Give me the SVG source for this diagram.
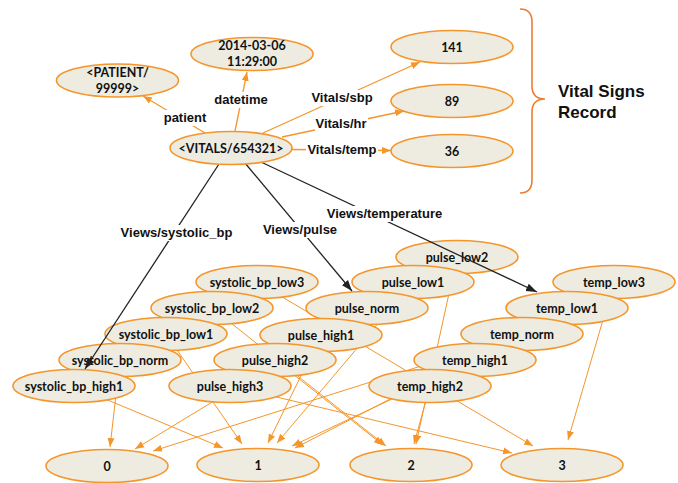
<svg xmlns="http://www.w3.org/2000/svg" width="678" height="483" viewBox="0 0 678 483">
<style>
.n ellipse{fill:#eeece1;stroke:#f4962c;stroke-width:1.6}
.n text{font-family:Lato,"Open Sans",sans-serif;font-weight:700;font-size:12.5px;fill:#111;text-anchor:middle}
.e{stroke:#f4962c;stroke-width:1;fill:none;marker-end:url(#ao)}
.et{stroke:#f4962c;stroke-width:1.3;fill:none;marker-end:url(#ao)}
.eb{stroke:#222;stroke-width:1.3;fill:none;marker-end:url(#ab)}
.lbl{font-family:"Liberation Sans",Arial,sans-serif;font-weight:700;font-size:13px;fill:#111;text-anchor:middle}
.bg{fill:#fff}
</style>
<defs>
<marker id="ao" markerUnits="userSpaceOnUse" markerWidth="10" markerHeight="8" refX="9" refY="4" orient="auto"><path d="M0,0.5 L9,4 L0,7.5 z" fill="#f4962c"/></marker>
<marker id="ab" markerUnits="userSpaceOnUse" markerWidth="12" markerHeight="9" refX="11" refY="4.5" orient="auto"><path d="M0,0.5 L11,4.5 L0,8.5 z" fill="#222"/></marker>
</defs>
<rect width="678" height="483" fill="#fff"/>

<g id="score-edges">
<line class="e" x1="120" y1="360" x2="110" y2="447"/>
<line class="e" x1="367" y1="308" x2="135" y2="449"/>
<line class="e" x1="522" y1="334" x2="153" y2="451"/>
<line class="e" x1="74" y1="386" x2="223" y2="448"/>
<line class="e" x1="166" y1="334" x2="242" y2="444"/>
<line class="e" x1="321" y1="335" x2="268" y2="443"/>
<line class="e" x1="413" y1="282" x2="277" y2="443"/>
<line class="e" x1="475" y1="360" x2="292" y2="446"/>
<line class="e" x1="567" y1="308" x2="295" y2="448"/>
<line class="e" x1="212" y1="308" x2="386" y2="446"/>
<line class="e" x1="275" y1="360" x2="383" y2="445"/>
<line class="e" x1="457" y1="257" x2="416" y2="444"/>
<line class="e" x1="430" y1="386" x2="414" y2="444"/>
<line class="e" x1="230" y1="386" x2="512" y2="453"/>
<line class="e" x1="257" y1="282" x2="533" y2="446"/>
<line class="e" x1="614" y1="282" x2="568" y2="440"/>
</g>

<g id="systolic_bp_low3" class="n"><ellipse cx="257" cy="282" rx="61" ry="16.5"/><text x="257" y="286.5">systolic_bp_low3</text></g>
<g id="systolic_bp_low2" class="n"><ellipse cx="212" cy="308" rx="61" ry="16.5"/><text x="212" y="312.5">systolic_bp_low2</text></g>
<g id="systolic_bp_low1" class="n"><ellipse cx="166" cy="334" rx="61" ry="16.5"/><text x="166" y="338.5">systolic_bp_low1</text></g>
<g id="systolic_bp_norm" class="n"><ellipse cx="120" cy="360" rx="61" ry="16.5"/><text x="120" y="364.5">systolic_bp_norm</text></g>
<g id="systolic_bp_high1" class="n"><ellipse cx="74" cy="386" rx="61" ry="16.5"/><text x="74" y="390.5">systolic_bp_high1</text></g>

<g id="pulse_low2" class="n"><ellipse cx="457" cy="257" rx="61" ry="16.5"/><text x="457" y="261.5">pulse_low2</text></g>
<g id="pulse_low1" class="n"><ellipse cx="413" cy="282" rx="61" ry="16.5"/><text x="413" y="286.5">pulse_low1</text></g>
<g id="pulse_norm" class="n"><ellipse cx="367" cy="308" rx="61" ry="16.5"/><text x="367" y="312.5">pulse_norm</text></g>
<g id="pulse_high1" class="n"><ellipse cx="321" cy="335" rx="61" ry="16.5"/><text x="321" y="339.5">pulse_high1</text></g>
<g id="pulse_high2" class="n"><ellipse cx="275" cy="360" rx="61" ry="16.5"/><text x="275" y="364.5">pulse_high2</text></g>
<g id="pulse_high3" class="n"><ellipse cx="230" cy="386" rx="61" ry="16.5"/><text x="230" y="390.5">pulse_high3</text></g>

<g id="temp_low3" class="n"><ellipse cx="614" cy="282" rx="61" ry="16.5"/><text x="614" y="286.5">temp_low3</text></g>
<g id="temp_low1" class="n"><ellipse cx="567" cy="308" rx="61" ry="16.5"/><text x="567" y="312.5">temp_low1</text></g>
<g id="temp_norm" class="n"><ellipse cx="522" cy="334" rx="61" ry="16.5"/><text x="522" y="338.5">temp_norm</text></g>
<g id="temp_high1" class="n"><ellipse cx="475" cy="360" rx="61" ry="16.5"/><text x="475" y="364.5">temp_high1</text></g>
<g id="temp_high2" class="n"><ellipse cx="430" cy="386" rx="61" ry="16.5"/><text x="430" y="390.5">temp_high2</text></g>

<g id="score0" class="n"><ellipse cx="107" cy="466" rx="61" ry="16.5"/><text x="107" y="470.5">0</text></g>
<g id="score1" class="n"><ellipse cx="258" cy="465" rx="61" ry="16.5"/><text x="258" y="469.5">1</text></g>
<g id="score2" class="n"><ellipse cx="411" cy="465" rx="61" ry="16.5"/><text x="411" y="469.5">2</text></g>
<g id="score3" class="n"><ellipse cx="562" cy="465" rx="61" ry="16.5"/><text x="562" y="469.5">3</text></g>

<g id="view-edges">
<line class="eb" x1="219" y1="164" x2="85" y2="369"/>
<line class="eb" x1="245" y1="163" x2="352" y2="291"/>
<line class="eb" x1="261" y1="162" x2="537" y2="292"/>
<rect class="bg" x="119" y="225" width="115" height="16"/>
<text class="lbl" x="176.5" y="237">Views/systolic_bp</text>
<rect class="bg" x="261" y="222" width="78" height="16"/>
<text class="lbl" x="300" y="234">Views/pulse</text>
<rect class="bg" x="324" y="206" width="121" height="16"/>
<text class="lbl" x="384.5" y="218">Views/temperature</text>
</g>

<g id="top-edges">
<line class="et" x1="205" y1="133" x2="143" y2="96"/>
<line class="et" x1="235" y1="131" x2="247" y2="72"/>
<line class="et" x1="263" y1="133" x2="420" y2="62"/>
<line class="et" x1="282" y1="137" x2="404" y2="111"/>
<line class="et" x1="292" y1="149.5" x2="391" y2="150.5"/>
<rect class="bg" x="162" y="110" width="46" height="16"/>
<text class="lbl" x="185" y="122">patient</text>
<rect class="bg" x="213" y="92" width="56" height="16"/>
<text class="lbl" x="241" y="104">datetime</text>
<rect class="bg" x="310" y="90" width="64" height="16"/>
<text class="lbl" x="342" y="102">Vitals/sbp</text>
<rect class="bg" x="315" y="116" width="53" height="16"/>
<text class="lbl" x="341" y="128">Vitals/hr</text>
<rect class="bg" x="306" y="142" width="72" height="16"/>
<text class="lbl" x="342" y="154">Vitals/temp</text>
</g>

<g id="patient" class="n"><ellipse cx="117.5" cy="80.5" rx="61" ry="16.5"/><text x="117.5" y="77">&lt;PATIENT/</text><text x="117.5" y="93">99999&gt;</text></g>
<g id="datetime" class="n"><ellipse cx="252" cy="54" rx="61" ry="16.5"/><text x="252" y="50">2014-03-06</text><text x="252" y="66">11:29:00</text></g>
<g id="vitals" class="n"><ellipse cx="231" cy="148" rx="61" ry="16.5"/><text x="231" y="152.5">&lt;VITALS/654321&gt;</text></g>
<g id="v141" class="n"><ellipse cx="452" cy="47" rx="61" ry="16.5"/><text x="452" y="51.5">141</text></g>
<g id="v89" class="n"><ellipse cx="452" cy="101" rx="61" ry="16.5"/><text x="452" y="105.5">89</text></g>
<g id="v36" class="n"><ellipse cx="452" cy="151" rx="61" ry="16.5"/><text x="452" y="155.5">36</text></g>

<g id="record-brace">
<path d="M520,9 Q532,9 532,22 L532,86 Q532,99 545,99 Q532,99 532,112 L532,180 Q532,193 520,193" fill="none" stroke="#ed7d31" stroke-width="1.6"/>
<text x="558" y="97" font-family="Liberation Sans, Arial, sans-serif" font-weight="700" font-size="17" fill="#111">Vital Signs</text>
<text x="558" y="118" font-family="Liberation Sans, Arial, sans-serif" font-weight="700" font-size="17" fill="#111">Record</text>
</g>
</svg>
